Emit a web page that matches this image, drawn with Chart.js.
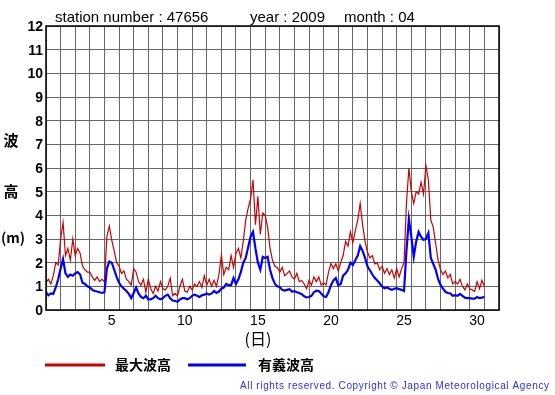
<!DOCTYPE html>
<html><head><meta charset="utf-8">
<script src="https://cdn.jsdelivr.net/npm/chart.js@4.4.1/dist/chart.umd.min.js"></script>
<style>html,body{margin:0;padding:0;background:#fff}#wrap{width:555px;height:395px;position:relative}</style>
</head><body><div id="wrap"><canvas id="c" width="555" height="395"></canvas></div>
<script>
// ---- data ----
const titleParts = ['station number : 47656', 'year : 2009', 'month : 04'];
const seriesNames = ['最大波高', '有義波高'];
const dayLabels = [5, 10, 15, 20, 25, 30];
const yMin = 0, yMax = 12;
const firstDay = 1, lastAxisDay = 32, samplesPerDay = 6;

// maximum wave height (m), 6 samples per day, day 1 .. day 30, plus end of day 30
const maxWave = [
  1.15,1.30,1.10,1.45,2.00,1.90,
  3.00,3.70,2.30,2.60,2.10,3.00,
  2.30,2.60,2.40,1.85,1.70,1.60,
  1.60,1.40,1.25,1.40,1.20,1.30,
  1.20,3.10,3.55,2.95,2.50,2.00,
  1.85,1.55,1.65,1.30,1.20,1.05,
  1.75,1.60,1.20,1.05,1.30,0.75,
  1.30,0.90,0.70,1.00,0.80,1.20,
  0.90,0.85,1.00,1.35,0.60,0.70,
  0.60,1.00,1.30,0.80,0.75,1.00,
  0.85,1.10,1.00,1.20,0.95,1.45,
  1.05,1.30,1.00,1.25,1.00,1.50,
  2.30,1.50,1.80,1.70,2.30,1.80,
  2.40,2.60,2.20,2.90,3.80,4.30,
  4.70,5.50,3.60,4.80,3.20,4.10,
  4.00,3.50,2.60,2.10,1.85,1.80,
  1.60,1.80,1.45,1.55,1.65,1.40,
  1.30,1.55,1.20,1.25,1.10,0.90,
  1.25,1.05,1.40,1.20,1.40,1.05,
  1.15,1.06,1.60,1.97,1.75,1.95,
  1.65,2.00,2.30,2.90,2.70,3.30,
  2.85,3.35,3.80,4.50,3.60,2.90,
  2.45,2.20,2.30,1.95,2.00,1.70,
  1.85,1.55,1.75,1.50,1.70,1.35,
  1.75,1.40,1.75,2.00,4.50,6.00,
  5.00,4.50,5.00,4.90,5.40,4.90,
  6.10,5.50,3.80,3.50,2.80,2.10,
  1.70,1.50,1.65,1.35,1.50,1.10,
  1.20,1.10,1.30,1.00,0.85,1.10,
  0.90,0.85,0.78,1.20,0.90,1.25,
  1.00
];
// significant wave height (m)
const sigWave = [
  0.75,0.62,0.70,0.68,0.95,1.30,
  1.75,2.15,1.55,1.40,1.50,1.45,
  1.55,1.60,1.50,1.15,1.10,1.00,
  0.95,0.85,0.80,0.78,0.75,0.72,
  0.75,1.75,2.05,2.00,1.70,1.40,
  1.15,1.00,0.90,0.80,0.68,0.50,
  0.72,0.95,0.70,0.55,0.50,0.60,
  0.45,0.45,0.50,0.60,0.50,0.45,
  0.50,0.60,0.65,0.50,0.40,0.38,
  0.35,0.45,0.50,0.50,0.45,0.50,
  0.60,0.65,0.60,0.55,0.62,0.65,
  0.70,0.65,0.70,0.80,0.72,0.78,
  0.90,0.95,1.10,1.05,1.05,1.35,
  1.10,1.30,1.60,2.00,2.20,2.65,
  3.10,3.30,2.60,2.00,1.70,2.25,
  2.20,2.25,1.70,1.35,1.10,1.00,
  0.96,0.85,0.82,0.85,0.88,0.78,
  0.80,0.75,0.72,0.67,0.58,0.53,
  0.55,0.60,0.75,0.82,0.80,0.70,
  0.58,0.55,0.75,1.05,1.25,1.35,
  1.05,1.10,1.45,1.55,1.70,2.00,
  1.90,2.10,2.30,2.70,2.50,2.20,
  1.85,1.68,1.50,1.35,1.25,1.13,
  0.99,0.92,0.95,0.90,0.85,0.90,
  0.92,0.88,0.85,0.80,2.50,3.85,
  3.10,2.25,2.90,3.30,3.10,2.96,
  3.00,3.25,2.20,1.95,1.70,1.30,
  1.06,0.90,0.77,0.72,0.70,0.60,
  0.63,0.60,0.68,0.60,0.52,0.50,
  0.50,0.48,0.48,0.55,0.50,0.52,
  0.56
];

const toPoints = arr => arr.map((v, i) => ({ x: firstDay + i / samplesPerDay, y: v }));
const RED = '#cc0000', BLUE = '#0000ff';
const LATIN = '"Liberation Sans", Arial, sans-serif';
const CJK = '"Noto Sans CJK JP", sans-serif';

const decor = {
  id: 'decor',
  afterDraw(chart) {
    const ctx = chart.ctx, a = chart.chartArea;
    ctx.save();
    // plot frame
    ctx.strokeStyle = '#000'; ctx.lineWidth = 1.5;
    ctx.strokeRect(a.left, a.top, a.right - a.left, a.bottom - a.top);
    // title
    ctx.fillStyle = '#000'; ctx.textBaseline = 'alphabetic'; ctx.textAlign = 'left';
    ctx.font = '15px ' + LATIN;
    ctx.fillText(titleParts[0], 55, 22);
    ctx.fillText(titleParts[1], 250, 22);
    ctx.fillText(titleParts[2], 344, 22);
    // y-axis title
    ctx.font = 'bold 15px ' + CJK; ctx.textAlign = 'center'; ctx.textBaseline = 'middle';
    ctx.fillText('波', 11, 140);
    ctx.fillText('高', 11, 191);
    ctx.font = 'bold 14px ' + CJK;
    ctx.fillText('(m)', 13, 238);
    // x-axis title
    ctx.font = '16px ' + CJK;
    ctx.fillText('(日)', 258, 339);
    // legend
    ctx.lineWidth = 3;
    ctx.strokeStyle = RED; ctx.beginPath(); ctx.moveTo(45, 365); ctx.lineTo(105, 365); ctx.stroke();
    ctx.strokeStyle = BLUE; ctx.beginPath(); ctx.moveTo(188, 365); ctx.lineTo(246, 365); ctx.stroke();
    ctx.font = 'bold 14px ' + CJK; ctx.textAlign = 'left'; ctx.fillStyle = '#000';
    ctx.fillText(seriesNames[0], 115, 365);
    ctx.fillText(seriesNames[1], 258, 365);
    // copyright
    const cr = 'All rights reserved. Copyright \u00A9 Japan Meteorological Agency';
    ctx.font = '10px ' + LATIN; ctx.fillStyle = '#2a2aff'; ctx.textAlign = 'left';
    const w = ctx.measureText(cr).width;
    const ls = Math.max(0, (309 - w) / (cr.length - 1));
    ctx.letterSpacing = ls + 'px';
    ctx.fillText(cr, 240, 386);
    ctx.restore();
  }
};

new Chart(document.getElementById('c'), {
  type: 'line',
  data: {
    datasets: [
      { label: seriesNames[1], data: toPoints(sigWave), borderColor: BLUE, borderWidth: 2.2, pointRadius: 0, tension: 0, fill: false },
      { label: seriesNames[0], data: toPoints(maxWave), borderColor: RED, borderWidth: 1.2, pointRadius: 0, tension: 0, fill: false }
    ]
  },
  options: {
    responsive: false, animation: false, devicePixelRatio: 1,
    layout: { padding: { left: 0, right: 56, top: 26, bottom: 0 } },
    plugins: { legend: { display: false }, tooltip: { enabled: false }, title: { display: false } },
    scales: {
      x: {
        type: 'linear', min: firstDay, max: lastAxisDay,
        afterBuildTicks(scale) {
          const t = [];
          for (let d = firstDay; d <= lastAxisDay; d++) {
            t.push({ value: d });
            if (dayLabels.includes(d)) t.push({ value: d + 0.5 });
          }
          scale.ticks = t;
        },
        afterFit(scale) { scale.height = 85; },
        ticks: {
          autoSkip: false, maxRotation: 0, minRotation: 0, padding: 3, color: '#000',
          font: { family: LATIN, size: 14 },
          callback: v => (v % 1 === 0.5 ? String(v - 0.5) : '')
        },
        grid: { color: c => (c.tick && c.tick.value % 1 === 0 ? '#666' : 'rgba(0,0,0,0)'), drawTicks: false, lineWidth: 1 },
        border: { display: false }
      },
      y: {
        min: yMin, max: yMax,
        afterFit(scale) { scale.width = 46; },
        ticks: { stepSize: 1, padding: 3, color: '#000', labelOffset: 1, font: { family: LATIN, size: 14, weight: 'bold' } },
        grid: { color: '#666', drawTicks: false, lineWidth: 1 },
        border: { display: false }
      }
    }
  },
  plugins: [decor]
});
</script>
</body></html>
